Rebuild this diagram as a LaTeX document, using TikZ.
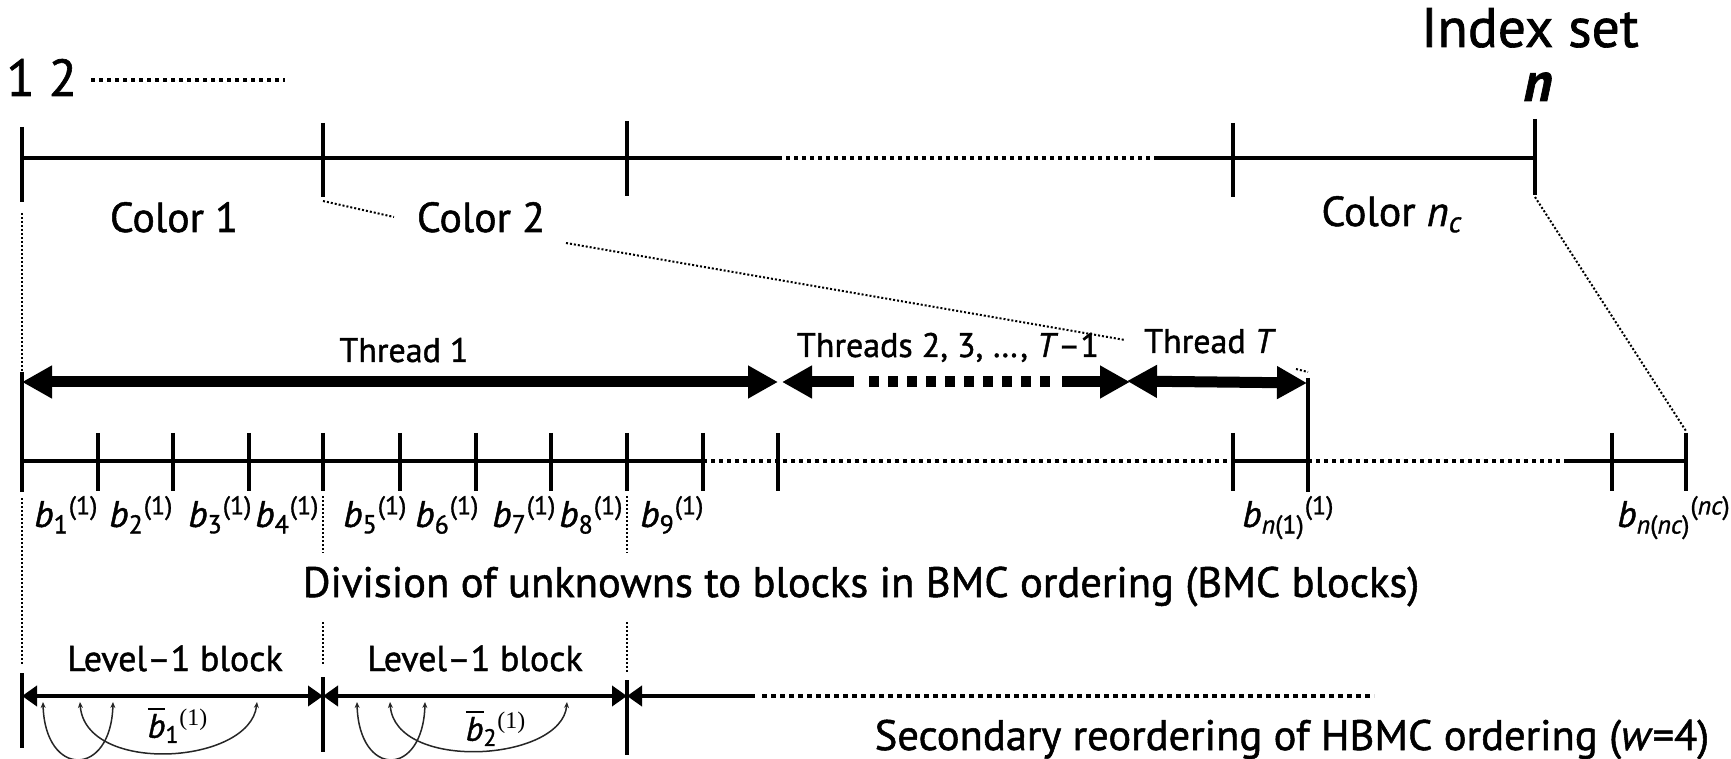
\documentclass[tikz,border=0pt]{standalone}
\usepackage{amsmath}
\usepackage{fontspec}
\setmainfont{PT Sans}[FakeBold=1.2]
\newfontfamily\serifnum{Liberation Serif}
\usetikzlibrary{arrows.meta}

\newcommand{\blk}[2]{\textit{b}$_{\text{#1}}{}^{\text{(#2)}}$}
\newcommand{\blkbar}[1]{$\overline{\textit{b}}_{\text{#1}}{}^{\text{\serifnum(1)}}$}

\begin{document}
\begin{tikzpicture}[x=0.5pt,y=-0.5pt,every node/.style={inner sep=0pt},
  axis/.style={line width=2pt},
  dotaxis/.style={line width=2pt,dash pattern=on 2pt off 2pt},
  guide/.style={line width=1pt,dash pattern=on 1pt off 1pt},
  thread/.style={line width=5.5pt,>={Triangle[length=15pt,width=15.5pt]}},
  lvl/.style={line width=2.2pt,>={Triangle[length=7.5pt,width=10pt]}},
  reorder/.style={line width=0.75pt,black!85,>={Stealth[length=3pt,width=2.5pt]}},
  bigtxt/.style={font=\fontsize{26}{30}\selectfont},
  idxtxt/.style={font=\fontsize{27.8}{30}\selectfont},
  colortxt/.style={font=\fontsize{21}{24}\selectfont},
  threadtxt/.style={font=\fontsize{17}{20}\selectfont},
  blktxt/.style={font=\fontsize{18.5}{20}\selectfont},
  captxt/.style={font=\fontsize{21.3}{24}\selectfont},
  lvltxt/.style={font=\fontsize{18}{20}\selectfont},
  bartxt/.style={font=\fontsize{17}{18}\selectfont}]
	\useasboundingbox (0,0) rectangle (1731,759);
	%Index set
	\node [bigtxt,anchor=base west] (one) at (6,96) {1 2};
	\coordinate (dotA) at (91,80);
	\coordinate (dotB) at (285,80);
	\draw[dotaxis] (dotA) -- (dotB);
	\node [idxtxt,anchor=base] (index) at (1530,47) {Index set};
	\node [idxtxt,anchor=base] (nend) at (1538,101) {\textbf{\textit{n}}};
	%Top axis
	\coordinate (t0) at (22,158);
	\coordinate (tA) at (778,158);
	\coordinate (tB) at (1157,158);
	\coordinate (tn) at (1535,158);
	\draw[axis] (t0) -- (tA);
	\draw[dotaxis] (tA) -- (tB);
	\draw[axis] (tB) -- (tn);
	\draw[axis] (22,127) -- (22,202);
	\draw[axis] (323,123) -- (323,197);
	\draw[axis] (627,121) -- (627,196);
	\draw[axis] (1233,123) -- (1233,197);
	\draw[axis] (1535,119) -- (1535,195);
	%Colors
	\node [colortxt,anchor=base] (col1) at (174,232) {Color 1};
	\node [colortxt,anchor=base] (col2) at (481,232) {Color 2};
	\node [colortxt,anchor=base] (colnc) at (1392,226) {Color \textit{n}$_{\text{\textit{c}}}$};
	%Zoom lines
	\coordinate (z1a) at (323,201);
	\coordinate (z1b) at (394,217);
	\coordinate (z2a) at (566,243);
	\coordinate (z2b) at (1125,340);
	\coordinate (z3a) at (1535,197);
	\coordinate (z3b) at (1686,431);
	\coordinate (z4a) at (1296,369);
	\coordinate (z4b) at (1308,372);
	\draw[guide] (z1a) -- (z1b);
	\draw[guide] (z2a) -- (z2b);
	\draw[guide] (z3a) -- (z3b);
	\draw[guide] (z4a) -- (z4b);
	\draw[guide] (22,213) -- (22,372);
	%Threads
	\coordinate (th0) at (22,382);
	\coordinate (th1) at (778,382);
	\coordinate (th2) at (782,382);
	\coordinate (th2a) at (854,382);
	\coordinate (th2b) at (869,382);
	\coordinate (th2c) at (1050,382);
	\coordinate (th2d) at (1062,382);
	\coordinate (th3) at (1130,382);
	\coordinate (thT0) at (1127,381);
	\coordinate (thT) at (1307,383);
	\draw[thread,<->] (th0) -- (th1);
	\draw[thread,<-] (th2) -- (th2a);
	\draw[thread,dash pattern=on 5pt off 4.5pt] (th2b) -- (th2c);
	\draw[thread,->] (th2d) -- (th3);
	\draw[thread,<->] (thT0) -- (thT);
	\node [threadtxt,anchor=base] (lt1) at (404,362) {Thread 1};
	\node [threadtxt,anchor=base] (lt2) at (948,357) {Threads 2, 3, \dots, \textit{T}--1};
	\node [threadtxt,anchor=base] (ltT) at (1210,353) {Thread \textit{T}};
	\draw[axis] (22,372) -- (22,492);
	\draw[line width=1.6pt] (1308,378) -- (1308,492);
	%BMC blocks
	\coordinate (b0) at (22,461);
	\coordinate (bA) at (703,461);
	\coordinate (bB) at (1233,461);
	\coordinate (bC) at (1308,461);
	\coordinate (bD) at (1565,461);
	\coordinate (bE) at (1686,461);
	\draw[axis] (b0) -- (bA);
	\draw[dotaxis] (bA) -- (bB);
	\draw[axis] (bB) -- (bC);
	\draw[dotaxis] (bC) -- (bD);
	\draw[axis] (bD) -- (bE);
	\draw[axis] (98,433) -- (98,491);
	\draw[axis] (173,433) -- (173,491);
	\draw[axis] (249,433) -- (249,491);
	\draw[axis] (323,433) -- (323,491);
	\draw[axis] (400,433) -- (400,491);
	\draw[axis] (476,433) -- (476,491);
	\draw[axis] (551,433) -- (551,491);
	\draw[axis] (627,433) -- (627,491);
	\draw[axis] (703,433) -- (703,491);
	\draw[axis] (778,433) -- (778,491);
	\draw[axis] (1233,433) -- (1233,491);
	\draw[axis] (1612,433) -- (1612,491);
	\draw[axis] (1686,433) -- (1686,491);
	\node [blktxt,anchor=base west] (l1) at (34,527) {\blk{1}{1}};
	\node [blktxt,anchor=base west] (l2) at (109,527) {\blk{2}{1}};
	\node [blktxt,anchor=base west] (l3) at (188,527) {\blk{3}{1}};
	\node [blktxt,anchor=base west] (l4) at (255,527) {\blk{4}{1}};
	\node [blktxt,anchor=base west] (l5) at (343,527) {\blk{5}{1}};
	\node [blktxt,anchor=base west] (l6) at (415,527) {\blk{6}{1}};
	\node [blktxt,anchor=base west] (l7) at (492,527) {\blk{7}{1}};
	\node [blktxt,anchor=base west] (l8) at (559,527) {\blk{8}{1}};
	\node [blktxt,anchor=base west] (l9) at (640,527) {\blk{9}{1}};
	\node [blktxt,anchor=base west] (ln1) at (1242,527) {\blk{\textit{n}(1)}{1}};
	\node [blktxt,anchor=base west] (lnc) at (1617,527) {\blk{\textit{n}(\textit{nc})}{\textit{nc}}};
	\draw[guide] (22,498) -- (22,665);
	\draw[guide] (323,496) -- (323,553);
	\draw[guide] (627,496) -- (627,553);
	\node [captxt,anchor=base] (cap1) at (861,597) {Division of unknowns to blocks in BMC ordering (BMC blocks)};
	%Level-1 blocks
	\draw[guide] (323,622) -- (323,665);
	\draw[guide] (627,622) -- (627,673);
	\node [lvltxt,anchor=base] (lv1) at (175,671) {Level--1 block};
	\node [lvltxt,anchor=base] (lv2) at (475,671) {Level--1 block};
	\coordinate (h0) at (22,696);
	\coordinate (h1) at (323,696);
	\coordinate (h2) at (627,696);
	\coordinate (h2a) at (755,696);
	\coordinate (h2b) at (762,696);
	\coordinate (h3) at (1374,696);
	\draw[lvl,<->] (h0) -- (h1);
	\draw[lvl,<->] (h1) -- (h2);
	\draw[lvl,<-] (h2) -- (h2a);
	\draw[lvl,dash pattern=on 2.5pt off 2pt] (h2b) -- (h3);
	\draw[axis] (22,673) -- (22,748);
	\draw[axis] (323,677) -- (323,752);
	\draw[axis] (627,680) -- (627,755);
	%Reordering arcs
	\draw[reorder,<->] (43,702) .. controls (45,778) and (111,778) .. (113,702);
	\draw[reorder,<->] (80,702) .. controls (85,775) and (250,765) .. (257,702);
	\draw[reorder,<->] (357,702) .. controls (359,778) and (423,778) .. (425,702);
	\draw[reorder,<->] (390,702) .. controls (395,772) and (562,762) .. (567,702);
	\node [bartxt] (bb1) at (178,725) {\blkbar{1}};
	\node [bartxt] (bb2) at (496,728) {\blkbar{2}};
	\node [captxt,anchor=base] (cap2) at (1292,750) {Secondary reordering of HBMC ordering (\textit{w}=4)};
\end{tikzpicture}
\end{document}
